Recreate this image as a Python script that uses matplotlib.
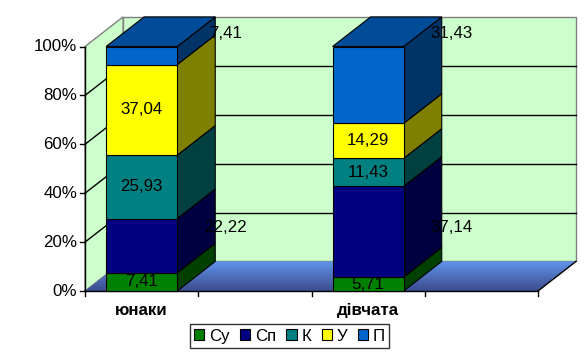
import matplotlib
matplotlib.use('Agg')
import matplotlib.pyplot as plt
import numpy as np
from matplotlib.patches import Polygon, Patch

plt.rcParams['font.family'] = ['Liberation Sans', 'DejaVu Sans']

# data
groups = ['юнаки', 'дівчата']
series = ['Су', 'Сп', 'К', 'У', 'П']
su = [7.41, 5.71]
sp = [22.22, 37.14]
k = [25.93, 11.43]
u = [37.04, 14.29]
p = [7.41, 31.43]
values = [su, sp, k, u, p]
yticks = [0, 20, 40, 60, 80, 100]

front = ['#008000', '#000080', '#008080', '#FFFF00', '#0066CC']
side = ['#004000', '#000040', '#004040', '#808000', '#003366']
top_col = '#004C99'
wall = '#CCFFCC'
fs = 12.2

# oblique depth offset (category units, percent units)
dx, dy = 0.168, 12.1
bar_l, bar_w = 0.093, 0.314
outside = {'Сп': 26, 'П': 105.3}   # labels Excel pushed beside the bar

fig = plt.figure(figsize=(5.88, 3.55), dpi=100)
ax = fig.add_axes([0, 0, 1, 1])

ncat = len(groups)

# floor with gradient
floor = Polygon([(0, 0), (ncat, 0), (ncat + dx, dy), (dx, dy)], closed=True,
                facecolor='none', edgecolor='none')
ax.add_patch(floor)
grad = np.linspace(0, 1, 60)[:, None]
c_back = np.array([0x60, 0x94, 0xEC]) / 255
c_front = np.array([0x3C, 0x4C, 0x8C]) / 255
img = c_back * (1 - grad[..., None]) + c_front * grad[..., None]
im = ax.imshow(img, extent=(0, ncat + dx, 0, dy), aspect='auto', zorder=1)
im.set_clip_path(floor)

# walls
ax.add_patch(Polygon([(dx, dy), (ncat + dx, dy), (ncat + dx, 100 + dy), (dx, 100 + dy)],
                     closed=True, facecolor=wall, edgecolor='#808080', lw=1, zorder=0))
ax.add_patch(Polygon([(0, 0), (dx, dy), (dx, 100 + dy), (0, 100)],
                     closed=True, facecolor=wall, edgecolor='#808080', lw=1, zorder=0))

for t in yticks[1:-1]:
    ax.plot([dx, ncat + dx], [t + dy, t + dy], color='black', lw=1, zorder=2)
    ax.plot([0, dx], [t, t + dy], color='black', lw=1, zorder=2)

# axes lines
ax.plot([0, 0], [0, 100], color='black', lw=1, zorder=2)
ax.plot([0, ncat], [0, 0], color='black', lw=1, zorder=2)
ax.plot([ncat, ncat + dx], [0, dy], color='black', lw=1, zorder=2)

for t in yticks:
    ax.plot([-0.022, 0], [t, t], color='black', lw=1)
    ax.text(-0.035, t, f'{t}%', ha='right', va='center', fontsize=fs)

for x in np.arange(0, ncat + 0.01, 0.5):
    ax.plot([x, x], [0, -2.2], color='black', lw=1)

# bars
for i in range(ncat):
    total = sum(v[i] for v in values)
    b = 0
    xl = i + bar_l
    xr = xl + bar_w
    for j, name in enumerate(series):
        h = values[j][i] / total * 100
        t = b + h
        ax.add_patch(Polygon([(xr, b), (xr + dx, b + dy), (xr + dx, t + dy), (xr, t)],
                             closed=True, facecolor=side[j], edgecolor='black', lw=0.8, zorder=3))
        ax.add_patch(Polygon([(xl, b), (xr, b), (xr, t), (xl, t)],
                             closed=True, facecolor=front[j], edgecolor='black', lw=0.8, zorder=3))
        if j == len(series) - 1:
            ax.add_patch(Polygon([(xl, t), (xr, t), (xr + dx, t + dy), (xl + dx, t + dy)],
                                 closed=True, facecolor=top_col, edgecolor='black', lw=0.8, zorder=3))
        lab = f'{values[j][i]:.2f}'.replace('.', ',')
        if name in outside:
            ax.text(i + 0.62, outside[name], lab, ha='center', va='center', fontsize=fs, zorder=5)
        else:
            ax.text((xl + xr) / 2, b + h / 2, lab, ha='center', va='center', fontsize=fs, zorder=5)
        b = t
    ax.text(xl + bar_w / 2, -7.8, groups[i], ha='center', va='center',
            fontsize=fs, fontweight='bold')

ax.set_xlim(-85 / 226.5, 503 / 226.5)
ax.set_ylim(-64 / 2.445, 291 / 2.445)
ax.axis('off')

handles = [Patch(facecolor=front[j], edgecolor='black', lw=0.8, label=series[j])
           for j in range(len(series))]
leg = fig.legend(handles=handles, ncol=5, loc='center', bbox_to_anchor=(0.4923, 0.0535),
                 fontsize=fs, frameon=True, fancybox=False, handlelength=0.6,
                 handleheight=0.6, handletextpad=0.3, columnspacing=0.6, borderpad=0.25,
                 borderaxespad=0)
leg.get_frame().set_edgecolor('black')
leg.get_frame().set_linewidth(1)

fig.savefig('out.png', dpi=100, facecolor='white')
